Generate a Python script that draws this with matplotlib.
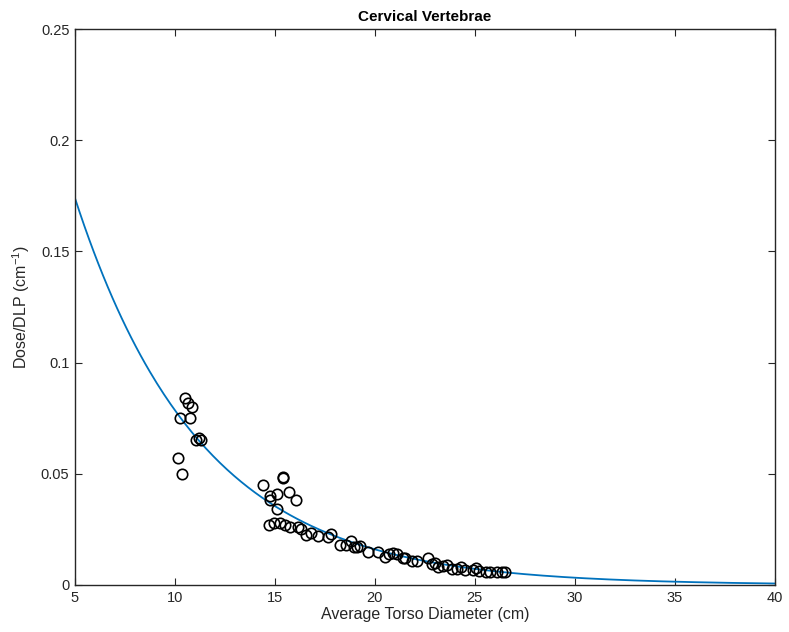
import numpy as np
import matplotlib
matplotlib.use("Agg")
import matplotlib.pyplot as plt

plt.rcParams['font.family'] = ['Liberation Sans', 'DejaVu Sans']
plt.rcParams['mathtext.fontset'] = 'custom'
plt.rcParams['mathtext.rm'] = 'Liberation Sans'
plt.rcParams['mathtext.it'] = 'Liberation Sans:italic'
plt.rcParams['mathtext.bf'] = 'Liberation Sans:bold'

# Measured dose/DLP against average torso diameter
diameter_cm = [
    10.15, 10.35, 10.25, 10.5, 10.65, 10.85, 10.75, 11.05, 11.2, 11.3,
    14.4, 14.75, 14.75, 15.1, 15.4, 15.4, 15.7, 16.05, 15.1,
    14.7, 14.95, 15.25, 15.5, 15.75, 16.15, 16.3, 16.55, 16.8, 17.15,
    17.65, 17.8, 18.25, 18.55, 18.8, 18.95, 19.1, 19.25, 19.65, 20.15,
    20.5, 20.7, 20.9, 21.1, 21.4, 21.5, 21.85, 22.1, 22.65, 22.85,
    23.0, 23.15, 23.4, 23.6, 23.85, 24.1, 24.3, 24.5, 24.9, 25.05,
    25.2, 25.55, 25.75, 26.1, 26.35, 26.5,
]
dose_per_dlp = [
    0.057, 0.050, 0.075, 0.084, 0.082, 0.080, 0.075, 0.065, 0.066, 0.065,
    0.045, 0.040, 0.038, 0.041, 0.048, 0.0485, 0.042, 0.038, 0.034,
    0.027, 0.028, 0.028, 0.027, 0.026, 0.026, 0.025, 0.0225, 0.0235, 0.022,
    0.0215, 0.023, 0.018, 0.018, 0.020, 0.017, 0.017, 0.0175, 0.015, 0.0148,
    0.0126, 0.014, 0.0144, 0.014, 0.012, 0.012, 0.011, 0.0108, 0.012, 0.0094,
    0.0099, 0.008, 0.0085, 0.009, 0.0072, 0.0072, 0.008, 0.0067, 0.0067, 0.0076,
    0.0063, 0.0058, 0.0058, 0.0058, 0.0058, 0.0058,
]

# Exponential fit: y = a * exp(-b * (x - 5))
fit_a = 0.174
fit_b = 0.159
x_fit = np.linspace(5, 40, 300)
y_fit = fit_a * np.exp(-fit_b * (x_fit - 5))

fig = plt.figure(figsize=(7.89, 6.32), dpi=100)
ax = fig.add_axes([0.095, 0.0744, 0.887, 0.8796])

ax.plot(x_fit, y_fit, color='#0072BD', lw=1.3, zorder=2)
ax.plot(diameter_cm, dose_per_dlp, 'o', mfc='none', mec='black', ms=7.5,
        mew=1.2, zorder=3)

ax.set_xlim(5, 40)
ax.set_ylim(0, 0.25)
ax.set_xticks([5, 10, 15, 20, 25, 30, 35, 40])
ax.set_yticks([0, 0.05, 0.1, 0.15, 0.2, 0.25])
ax.set_yticklabels(['0', '0.05', '0.1', '0.15', '0.2', '0.25'])

edge = '#262626'
for s in ax.spines.values():
    s.set_color(edge)
    s.set_linewidth(1.0)
ax.tick_params(direction='in', top=True, right=True, length=5, width=0.8,
               colors=edge, labelsize=10.5, pad=4)

ax.set_title('Cervical Vertebrae', fontsize=11, fontweight='bold', pad=6)
ax.set_xlabel('Average Torso Diameter (cm)', fontsize=11.5, color=edge, labelpad=2)
ax.set_ylabel('Dose/DLP (cm$^{-1}$)', fontsize=11.5, color=edge, labelpad=6)

fig.savefig('out.png', dpi=100, facecolor='white')
